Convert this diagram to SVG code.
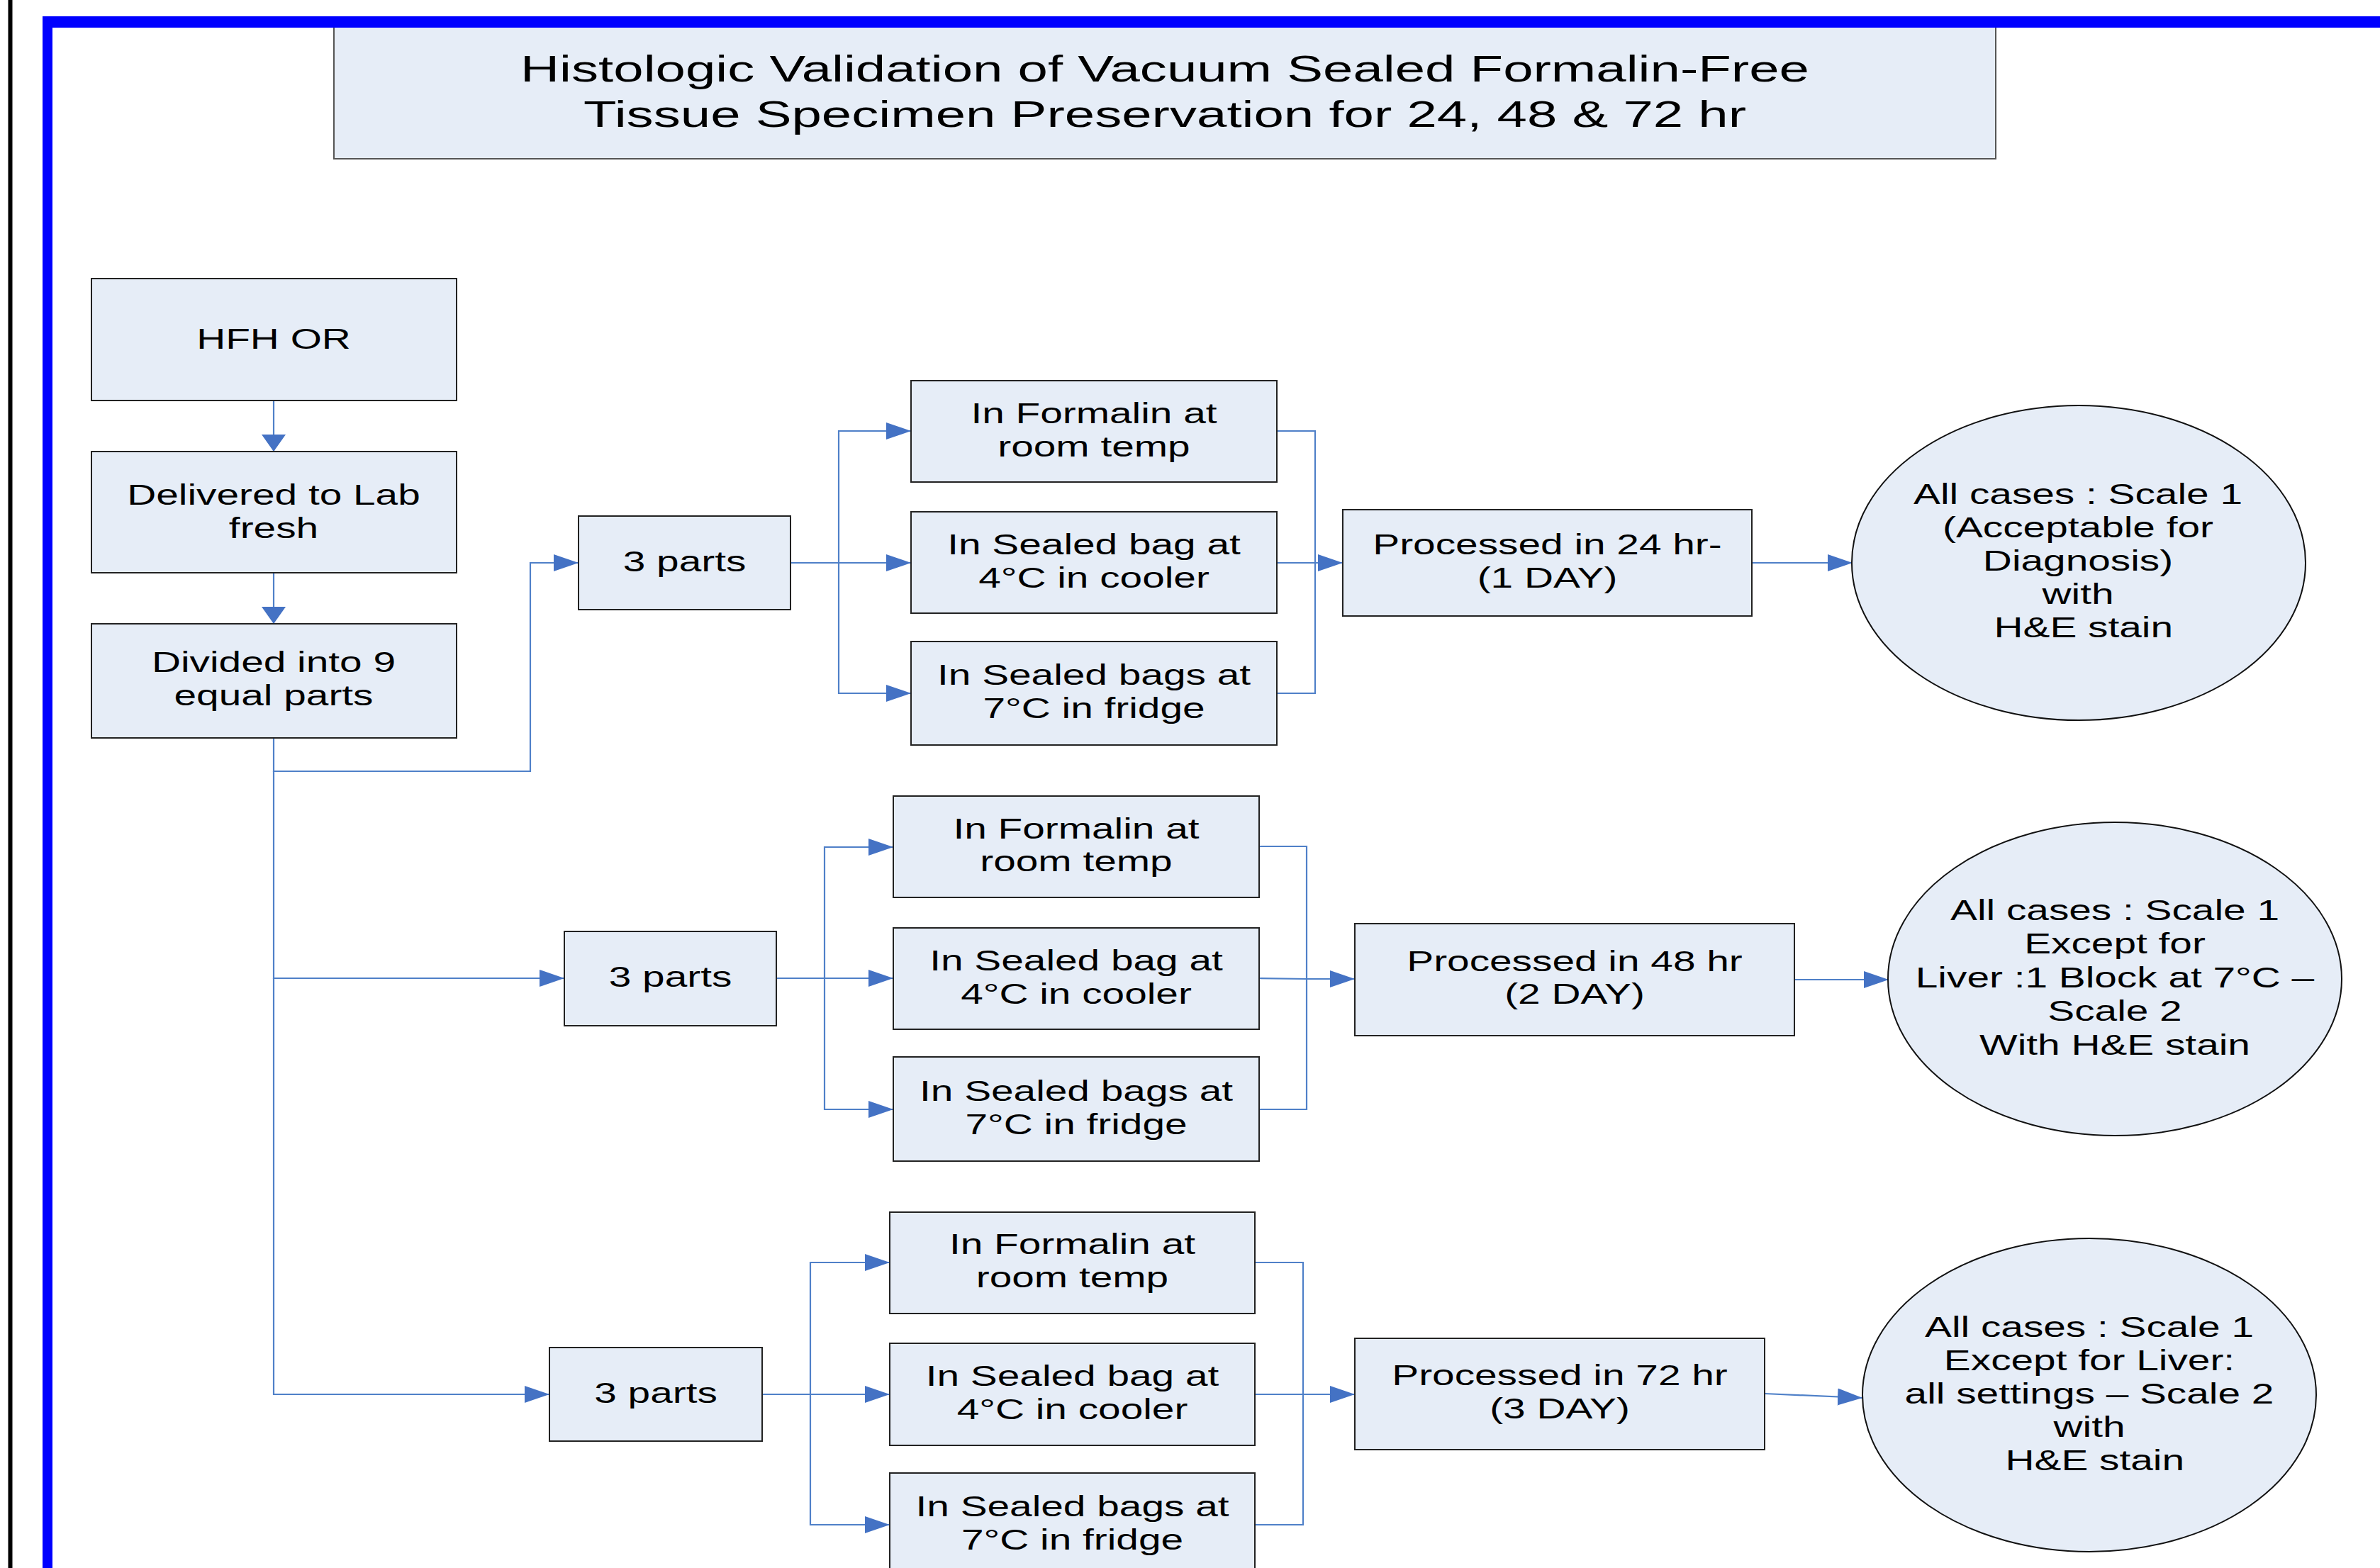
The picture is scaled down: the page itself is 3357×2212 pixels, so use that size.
<svg xmlns="http://www.w3.org/2000/svg" width="3357" height="2212" viewBox="0 0 3357 2212">
<style>
.box{fill:#E6EDF7;stroke:#222;stroke-width:2}
.ell{fill:#E6EDF7;stroke:#111;stroke-width:2}
.t{font-family:"Liberation Sans",Arial,sans-serif;font-size:40px;fill:#000;text-anchor:middle}
.tt{font-family:"Liberation Sans",Arial,sans-serif;font-size:52px;fill:#000;text-anchor:middle}
.c{fill:none;stroke:#4F80C8;stroke-width:2.2}
.ch{fill:none;stroke:#4F80C8;stroke-width:2.2;marker-end:url(#ah)}
.cv{fill:none;stroke:#4F80C8;stroke-width:2.2;marker-end:url(#av)}
</style>
<defs>
<marker id="ah" markerUnits="userSpaceOnUse" markerWidth="36" markerHeight="26" refX="35" refY="12.5" orient="auto"><path d="M0,0.5 L35,12.5 L0,24.5 z" fill="#4472C4"/></marker>
<marker id="av" markerUnits="userSpaceOnUse" markerWidth="26" markerHeight="36" refX="24" refY="17" orient="auto"><path d="M0,0 L24,17 L0,34 z" fill="#4472C4"/></marker>
</defs>
<rect width="3357" height="2212" fill="#fff"/>
<rect x="11.5" y="0" width="6" height="2212" fill="#000"/>

<g id="title">
<rect x="471" y="36" width="2344" height="188" fill="#E6EDF7" stroke="#555" stroke-width="2"/>
<text class="tt" transform="translate(1643 0) scale(1.465 1)"><tspan x="0" y="115">Histologic Validation of Vacuum Sealed Formalin-Free</tspan><tspan x="0" y="179">Tissue Specimen Preservation for 24, 48 &amp; 72 hr</tspan></text>
</g>

<path d="M60,23 H3357 V39 H74 V2212 H60 Z" fill="#0000FF"/>

<g id="connectors">
<path class="cv" d="M386,565 V637"/>
<path class="cv" d="M386,808 V880"/>
<path class="ch" d="M386,1041 V1088 H748 V794 H816"/>
<path class="ch" d="M386,1088 V1380 H796"/>
<path class="ch" d="M386,1380 V1967 H775"/>

<path class="ch" d="M1115,794 H1285"/>
<path class="ch" d="M1183,794 V608 H1285"/>
<path class="ch" d="M1183,794 V978 H1285"/>
<path class="c" d="M1801,608 H1855 V978 H1801"/>
<path class="ch" d="M1801,794 H1894"/>
<path class="ch" d="M2471,794 H2613"/>

<path class="ch" d="M1095,1380 H1260"/>
<path class="ch" d="M1163,1380 V1195 H1260"/>
<path class="ch" d="M1163,1380 V1565 H1260"/>
<path class="c" d="M1776,1194 H1843 V1565 H1776"/>
<path class="ch" d="M1776,1380 L1843,1381 H1911"/>
<path class="ch" d="M2531,1382 H2664"/>

<path class="ch" d="M1075,1967 H1255"/>
<path class="ch" d="M1143,1967 V1781 H1255"/>
<path class="ch" d="M1143,1967 V2151 H1255"/>
<path class="c" d="M1770,1781 H1838 V2151 H1770"/>
<path class="ch" d="M1770,1967 H1911"/>
<path class="ch" d="M2489,1966 L2627,1972"/>
</g>

<g id="hfh"><rect class="box" x="129" y="393" width="515" height="172"/>
<text class="t" transform="translate(386 0) scale(1.42 1)"><tspan x="0" y="492">HFH OR</tspan></text></g>
<g id="delivered"><rect class="box" x="129" y="637" width="515" height="171"/>
<text class="t" transform="translate(386 0) scale(1.42 1)"><tspan x="0" y="712">Delivered to Lab</tspan><tspan x="0" y="759">fresh</tspan></text></g>
<g id="divided"><rect class="box" x="129" y="880" width="515" height="161"/>
<text class="t" transform="translate(386 0) scale(1.42 1)"><tspan x="0" y="948">Divided into 9</tspan><tspan x="0" y="995">equal parts</tspan></text></g>

<g id="parts1"><rect class="box" x="816" y="728" width="299" height="132"/>
<text class="t" transform="translate(965.5 0) scale(1.42 1)"><tspan x="0" y="806">3 parts</tspan></text></g>
<g id="parts2"><rect class="box" x="796" y="1314" width="299" height="133"/>
<text class="t" transform="translate(945.5 0) scale(1.42 1)"><tspan x="0" y="1392">3 parts</tspan></text></g>
<g id="parts3"><rect class="box" x="775" y="1901" width="300" height="132"/>
<text class="t" transform="translate(925 0) scale(1.42 1)"><tspan x="0" y="1979">3 parts</tspan></text></g>

<g id="formalin1"><rect class="box" x="1285" y="537" width="516" height="143"/>
<text class="t" transform="translate(1543 0) scale(1.42 1)"><tspan x="0" y="597">In Formalin at</tspan><tspan x="0" y="644">room temp</tspan></text></g>
<g id="sealed1"><rect class="box" x="1285" y="722" width="516" height="143"/>
<text class="t" transform="translate(1543 0) scale(1.42 1)"><tspan x="0" y="782">In Sealed bag at</tspan><tspan x="0" y="829">4°C in cooler</tspan></text></g>
<g id="fridge1"><rect class="box" x="1285" y="905" width="516" height="146"/>
<text class="t" transform="translate(1543 0) scale(1.42 1)"><tspan x="0" y="966">In Sealed bags at</tspan><tspan x="0" y="1013">7°C in fridge</tspan></text></g>
<g id="proc24"><rect class="box" x="1894" y="719" width="577" height="150"/>
<text class="t" transform="translate(2182.5 0) scale(1.42 1)"><tspan x="0" y="782">Processed in 24 hr-</tspan><tspan x="0" y="829">(1 DAY)</tspan></text></g>
<g id="result24"><ellipse class="ell" cx="2932" cy="794" rx="320" ry="222"/>
<text class="t" transform="translate(2931 0) scale(1.42 1)"><tspan x="0" y="711">All cases : Scale 1</tspan><tspan x="0" y="758">(Acceptable for</tspan><tspan x="0" y="805">Diagnosis)</tspan><tspan x="0" y="852">with</tspan><tspan x="5.5" y="899">H&amp;E stain</tspan></text></g>

<g id="formalin2"><rect class="box" x="1260" y="1123" width="516" height="143"/>
<text class="t" transform="translate(1518 0) scale(1.42 1)"><tspan x="0" y="1183">In Formalin at</tspan><tspan x="0" y="1229">room temp</tspan></text></g>
<g id="sealed2"><rect class="box" x="1260" y="1309" width="516" height="143"/>
<text class="t" transform="translate(1518 0) scale(1.42 1)"><tspan x="0" y="1369">In Sealed bag at</tspan><tspan x="0" y="1416">4°C in cooler</tspan></text></g>
<g id="fridge2"><rect class="box" x="1260" y="1491" width="516" height="147"/>
<text class="t" transform="translate(1518 0) scale(1.42 1)"><tspan x="0" y="1553">In Sealed bags at</tspan><tspan x="0" y="1600">7°C in fridge</tspan></text></g>
<g id="proc48"><rect class="box" x="1911" y="1303" width="620" height="158"/>
<text class="t" transform="translate(2221 0) scale(1.42 1)"><tspan x="0" y="1370">Processed in 48 hr</tspan><tspan x="0" y="1416">(2 DAY)</tspan></text></g>
<g id="result48"><ellipse class="ell" cx="2983" cy="1381" rx="320" ry="221"/>
<text class="t" transform="translate(2983 0) scale(1.42 1)"><tspan x="0" y="1298">All cases : Scale 1</tspan><tspan x="0" y="1345">Except for</tspan><tspan x="0" y="1393">Liver :1 Block at 7°C –</tspan><tspan x="0" y="1440">Scale 2</tspan><tspan x="0" y="1488">With H&amp;E stain</tspan></text></g>

<g id="formalin3"><rect class="box" x="1255" y="1710" width="515" height="143"/>
<text class="t" transform="translate(1512.5 0) scale(1.42 1)"><tspan x="0" y="1769">In Formalin at</tspan><tspan x="0" y="1816">room temp</tspan></text></g>
<g id="sealed3"><rect class="box" x="1255" y="1895" width="515" height="144"/>
<text class="t" transform="translate(1512.5 0) scale(1.42 1)"><tspan x="0" y="1955">In Sealed bag at</tspan><tspan x="0" y="2002">4°C in cooler</tspan></text></g>
<g id="fridge3"><rect class="box" x="1255" y="2078" width="515" height="145"/>
<text class="t" transform="translate(1512.5 0) scale(1.42 1)"><tspan x="0" y="2139">In Sealed bags at</tspan><tspan x="0" y="2186">7°C in fridge</tspan></text></g>
<g id="proc72"><rect class="box" x="1911" y="1888" width="578" height="157"/>
<text class="t" transform="translate(2200 0) scale(1.42 1)"><tspan x="0" y="1954">Processed in 72 hr</tspan><tspan x="0" y="2001">(3 DAY)</tspan></text></g>
<g id="result72"><ellipse class="ell" cx="2947" cy="1968" rx="320" ry="221"/>
<text class="t" transform="translate(2947 0) scale(1.42 1)"><tspan x="0" y="1886">All cases : Scale 1</tspan><tspan x="0" y="1933">Except for Liver:</tspan><tspan x="0" y="1980">all settings – Scale 2</tspan><tspan x="0" y="2027">with</tspan><tspan x="5.5" y="2074">H&amp;E stain</tspan></text></g>
</svg>
